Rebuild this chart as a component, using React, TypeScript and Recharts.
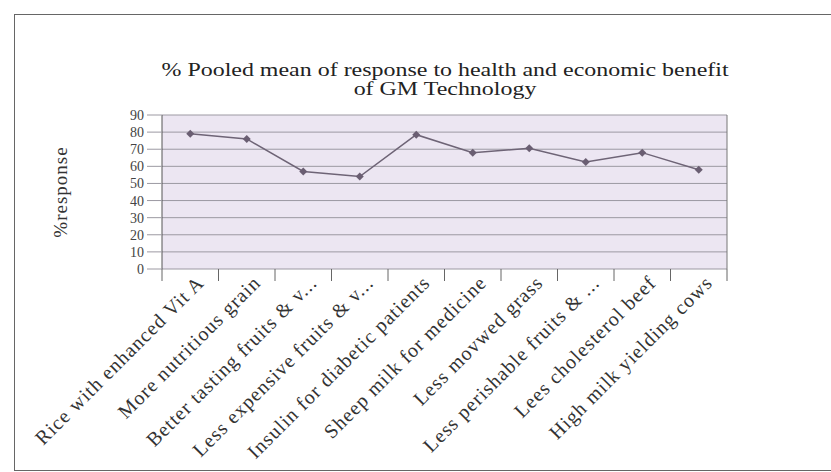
import { ComposedChart, Line, XAxis, YAxis, CartesianGrid } from "recharts";

const categories = [
  "Rice with enhanced Vit A",
  "More nutritious grain",
  "Better tasting fruits & v...",
  "Less expensive fruits & v...",
  "Insulin for diabetic patients",
  "Sheep milk for medicine",
  "Less movwed grass",
  "Less perishable fruits & ...",
  "Lees cholesterol beef",
  "High milk yielding cows",
];
const responses = [79, 76, 57, 54, 78.5, 68, 70.5, 62.5, 68, 58];
const yTicks = [0, 10, 20, 30, 40, 50, 60, 70, 80, 90];

const data = categories.map((name, i) => ({ name, value: responses[i] }));

const serif = "'Liberation Serif', 'Times New Roman', serif";

const W = 831;
const H = 472;
const margin = { top: 115, right: 103, left: 0, bottom: 0 };
const Y_AXIS_W = 162;
const RIGHT_AXIS_W = 1;
const step = (W - margin.left - margin.right - Y_AXIS_W - RIGHT_AXIS_W) / categories.length;

const CatTick = ({ x, y, payload, index }: any) => {
  const ax = x + 15;
  const ay = y + 15;
  return (
    <g>
      <line x1={x - step / 2} y1={y} x2={x - step / 2} y2={y + 12} stroke="#666" />
      {index === categories.length - 1 && (
        <line x1={x + step / 2} y1={y} x2={x + step / 2} y2={y + 12} stroke="#666" />
      )}
      <text x={ax} y={ay} textAnchor="end" transform={`rotate(-45, ${ax}, ${ay})`}
        fontSize={20} letterSpacing={1} fill="#333" fontFamily={serif}>
        {payload.value}
      </text>
    </g>
  );
};

const Diamond = ({ cx, cy }: any) => (
  <polygon points={`${cx},${cy - 4} ${cx + 4},${cy} ${cx},${cy + 4} ${cx - 4},${cy}`} fill="#6a5e72" />
);

export default function App() {
  return (
    <div style={{ position: "absolute", left: 0, top: 0, width: W, height: H, background: "#fff", fontFamily: serif, overflow: "hidden" }}>
      <div style={{
        position: "absolute", left: 14, top: 14, width: 830, height: 455,
        borderLeft: "1px solid #666", borderTop: "1px solid #666", borderBottom: "1px solid #666",
      }} />
      <div style={{
        position: "absolute", left: 145, top: 60, width: 600, textAlign: "center",
        fontSize: 19, lineHeight: "19px", color: "#222", transform: "scaleX(1.26)",
      }}>
        % Pooled mean of response to health and economic benefit<br />of GM Technology
      </div>
      <div style={{ position: "absolute", left: 0, top: 0 }}>
        <ComposedChart width={W} height={H} data={data} margin={margin}>
          <CartesianGrid vertical={false} stroke="#9c99a2" fill="#ece6f2" yAxisId="left" />
          <XAxis dataKey="name" scale="band" height={203} interval={0} tickLine={false} axisLine={false}
            tickSize={0} tickMargin={0} tick={<CatTick />} />
          <YAxis yAxisId="left" width={Y_AXIS_W} domain={[0, 90]} ticks={yTicks} interval={0}
            tickSize={15} tickMargin={3} axisLine={{ stroke: "#555" }} tickLine={{ stroke: "#9c99a2" }}
            tick={{ fontSize: 14, fill: "#444", fontFamily: serif }}
            label={{ value: "%response", angle: -90, position: "insideLeft", offset: 60, fontSize: 19, letterSpacing: 1, fill: "#333", fontFamily: serif, style: { textAnchor: "middle" } }} />
          <YAxis yAxisId="right" orientation="right" width={RIGHT_AXIS_W} domain={[0, 90]} tick={false} tickLine={false}
            axisLine={{ stroke: "#777" }} />
          <Line yAxisId="left" dataKey="value" stroke="#6e6476" strokeWidth={1.5}
            dot={<Diamond />} activeDot={false} isAnimationActive={false} />
        </ComposedChart>
      </div>
    </div>
  );
}
